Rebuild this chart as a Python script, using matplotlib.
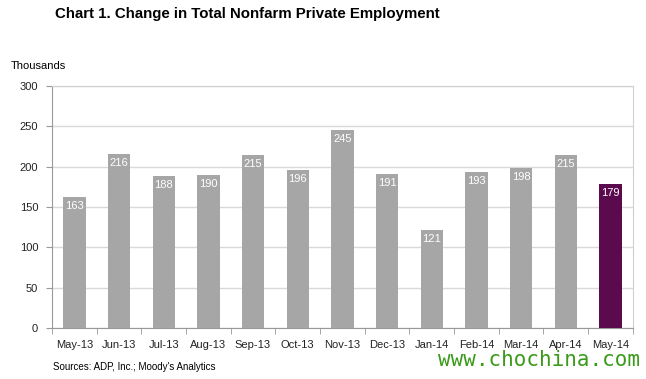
import matplotlib.pyplot as plt
import numpy as np

months = ["May-13", "Jun-13", "Jul-13", "Aug-13", "Sep-13", "Oct-13", "Nov-13",
          "Dec-13", "Jan-14", "Feb-14", "Mar-14", "Apr-14", "May-14"]
values = [163, 216, 188, 190, 215, 196, 245, 191, 121, 193, 198, 215, 179]
yticks = [0, 50, 100, 150, 200, 250, 300]

gray = "#a6a6a6"
purple = "#5c0a4e"
colors = [gray] * (len(values) - 1) + [purple]

plt.rcParams["font.family"] = ["Liberation Sans", "DejaVu Sans"]

fig = plt.figure(figsize=(6.46, 3.79), dpi=100)
ax = fig.add_axes([0.0805, 0.1346, 0.899, 0.6385])

x = np.arange(len(months))
ax.bar(x, values, width=0.5, color=colors, zorder=3)
for xi, v in zip(x, values):
    ax.text(xi, v - 5, str(v), ha="center", va="top", color="white",
            fontsize=8, zorder=4)

ax.set_xlim(-0.5, len(months) - 0.5)
ax.set_ylim(0, 300)
ax.set_yticks(yticks)
ax.set_xticks(x)
ax.set_xticklabels(months, fontsize=8, color="#222222")
ax.tick_params(axis="x", length=0, pad=9)
ax.set_xticks(np.arange(-0.5, len(months)), minor=True)
ax.tick_params(axis="x", which="minor", length=4, color="#999999")
ax.tick_params(axis="y", labelsize=8, length=4, color="#999999",
               labelcolor="#222222", pad=6)
ax.grid(axis="y", color="#d9d9d9", linewidth=1, zorder=0)
for s in ax.spines.values():
    s.set_color("#d0d0d0")
ax.spines["bottom"].set_color("#999999")
ax.spines["left"].set_color("#999999")

fig.text(0.383, 0.963, "Chart 1. Change in Total Nonfarm Private Employment",
         ha="center", va="center", fontsize=10.8, fontweight="bold")
fig.text(0.016, 0.826, "Thousands", ha="left", va="center", fontsize=8)
fig.text(0.082, 0.031, "Sources: ADP, Inc.; Moody's Analytics", ha="left",
         va="center", fontsize=7)
fig.text(0.99, 0.05, "www.chochina.com", ha="right", va="center",
         fontsize=15, color="#3a9a1a", family="DejaVu Sans Mono")

fig.savefig("out.png", dpi=100)
